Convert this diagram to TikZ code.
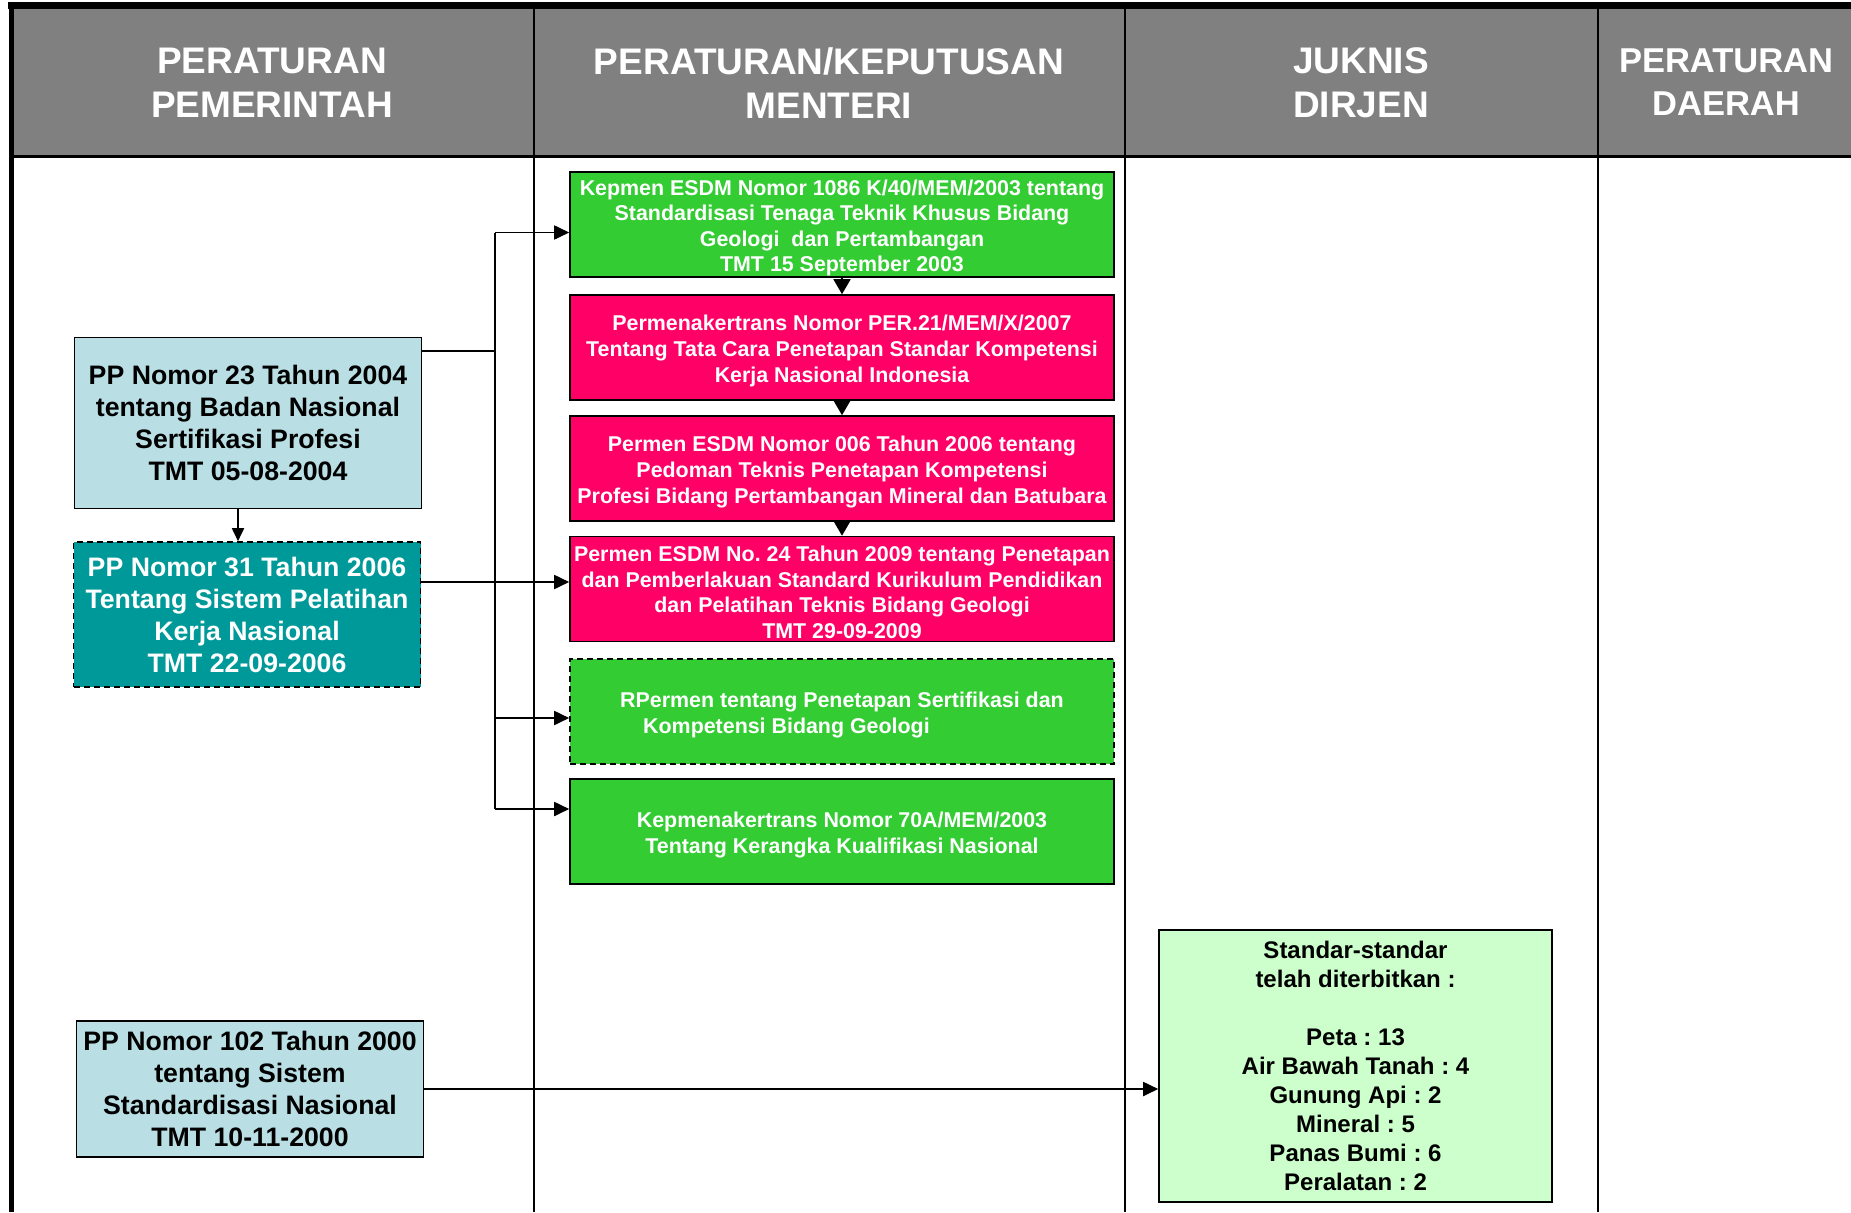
\documentclass[tikz,border=0pt]{standalone}
\usepackage{fontspec}
\setmainfont{Liberation Sans}
\usetikzlibrary{arrows.meta,calc}
\definecolor{hdrgray}{RGB}{128,128,128}
\definecolor{ltblue}{RGB}{185,223,228}
\definecolor{tealbox}{RGB}{0,153,153}
\definecolor{grn}{RGB}{51,204,51}
\definecolor{pink}{RGB}{255,0,102}
\definecolor{ltgreen}{RGB}{204,255,204}
\newcommand\txtdown{\rule{0pt}{22.5pt}}
\frenchspacing
\begin{document}
\begin{tikzpicture}[x=1pt,y=-1pt,
  box/.style={draw=black, line width=1.6pt, inner sep=0pt, align=center},
  ppbox/.style={box, minimum width=347pt, font=\fontsize{26.7}{32}\selectfont\bfseries},
  midbox/.style={box, minimum width=544pt, minimum height=105pt, text=white, font=\fontsize{21.4}{25.6}\selectfont\bfseries},
  dashedbox/.style={dash pattern=on 6pt off 4pt},
  hdr/.style={text=white, align=center, font=\fontsize{37}{44}\selectfont\bfseries},
  conn/.style={line width=1.8pt},
  arr/.style={line width=1.8pt, -{Triangle[length=15pt,width=14pt]}},
  chain/.style={line width=1.8pt, -{Triangle[length=15pt,width=17pt]}},
]
\useasboundingbox (0,0) rectangle (1851,1212);
% header
\fill[hdrgray] (12,9) rectangle (1851,156);
\draw[line width=3pt] (12,156) -- (1851,156);
\draw[line width=7pt] (8,5.5) -- (1851,5.5);
\draw[line width=5pt] (11,3) -- (11,1212);
\foreach \cx in {534,1125,1598} \draw[line width=2pt] (\cx,9) -- (\cx,1212);
\node[hdr] (h1) at (272,83) {PERATURAN\\PEMERINTAH};
\node[hdr] (h2) at (829,83) {PERATURAN/KEPUTUSAN\\MENTERI};
\node[hdr] (h3) at (1361,83) {JUKNIS\\DIRJEN};
\node[hdr, font=\fontsize{34.5}{43}\selectfont\bfseries] (h4) at (1726,82) {PERATURAN\\DAERAH};
% left column
\node[ppbox, fill=ltblue, minimum height=171pt] (pp23) at (248,423)
  {PP Nomor 23 Tahun 2004\\tentang Badan Nasional\\Sertifikasi Profesi\\TMT 05-08-2004};
\node[ppbox, dashedbox, fill=tealbox, text=white, minimum height=145pt] (pp31) at (247,614.5)
  {PP Nomor 31 Tahun 2006\\Tentang Sistem Pelatihan\\Kerja Nasional\\TMT 22-09-2006};
\node[ppbox, fill=ltblue, minimum height=136pt] (pp102) at (250,1089)
  {PP Nomor 102 Tahun 2000\\tentang Sistem\\Standardisasi Nasional\\TMT 10-11-2000};
% middle column
\node[midbox, fill=grn] (k1) at (842,224.5)
  {\txtdown Kepmen ESDM Nomor 1086 K/40/MEM/2003 tentang\\Standardisasi Tenaga Teknik Khusus Bidang\\Geologi\ \ dan Pertambangan\\TMT 15 September 2003};
\node[midbox, fill=pink] (k2) at (842,347.5)
  {\txtdown Permenakertrans Nomor PER.21/MEM/X/2007\\Tentang Tata Cara Penetapan Standar Kompetensi\\Kerja Nasional Indonesia};
\node[midbox, fill=pink] (k3) at (842,468.5)
  {\txtdown Permen ESDM Nomor 006 Tahun 2006 tentang\\Pedoman Teknis Penetapan Kompetensi\\Profesi Bidang Pertambangan Mineral dan Batubara};
\node[midbox, fill=pink] (k4) at (842,589)
  {\txtdown Permen ESDM No. 24 Tahun 2009 tentang Penetapan\\dan Pemberlakuan Standard Kurikulum Pendidikan\\dan Pelatihan Teknis Bidang Geologi\\TMT 29-09-2009};
\node[midbox, dashedbox, fill=grn, align=left] (k5) at (842,711.5)
  {\txtdown RPermen tentang Penetapan Sertifikasi dan\\\hspace*{23pt}Kompetensi Bidang Geologi};
\node[midbox, fill=grn] (k6) at (842,831.5)
  {\txtdown Kepmenakertrans Nomor 70A/MEM/2003\\Tentang Kerangka Kualifikasi Nasional};
% juknis column
\node[box, fill=ltgreen, minimum width=393pt, minimum height=272pt, font=\fontsize{24}{29}\selectfont\bfseries] (std) at (1355.5,1066)
  {Standar-standar\\telah diterbitkan :\\[29pt]Peta : 13\\Air Bawah Tanah : 4\\Gunung Api : 2\\Mineral : 5\\Panas Bumi : 6\\Peralatan : 2};
% connectors
\draw[chain] (k1.south) -- (k2.north);
\draw[chain] (k2.south) -- (k3.north);
\draw[chain] (k3.south) -- (k4.north);
\coordinate (d1) at ($(pp23.south)+(-10,0)$);
\coordinate (d2) at ($(pp31.north)+(-9,0)$);
\draw[line width=1.8pt, -{Triangle[length=13pt,width=12pt]}] (d1) -- (d2);
\coordinate (e1) at ($(k1.west)+(0,8)$);
\coordinate (e5) at ($(k5.west)+(0,6.5)$);
\coordinate (e6) at ($(k6.west)+(0,-22.5)$);
\coordinate (e4) at ($(k4.west)+(0,-7)$);
\coordinate (s23) at ($(pp23.north east)+(0,14)$);
\coordinate (busx) at (495,0);
\draw[conn] (busx |- e1) -- (busx |- e6);
\draw[conn] (s23) -- (busx |- s23);
\draw[arr] (busx |- e1) -- (e1);
\draw[arr] (busx |- e5) -- (e5);
\draw[arr] (busx |- e6) -- (e6);
\draw[arr] (pp31.east |- e4) -- (e4);
\draw[arr] (pp102.east) -- (pp102.east -| std.west);
\end{tikzpicture}
\end{document}
